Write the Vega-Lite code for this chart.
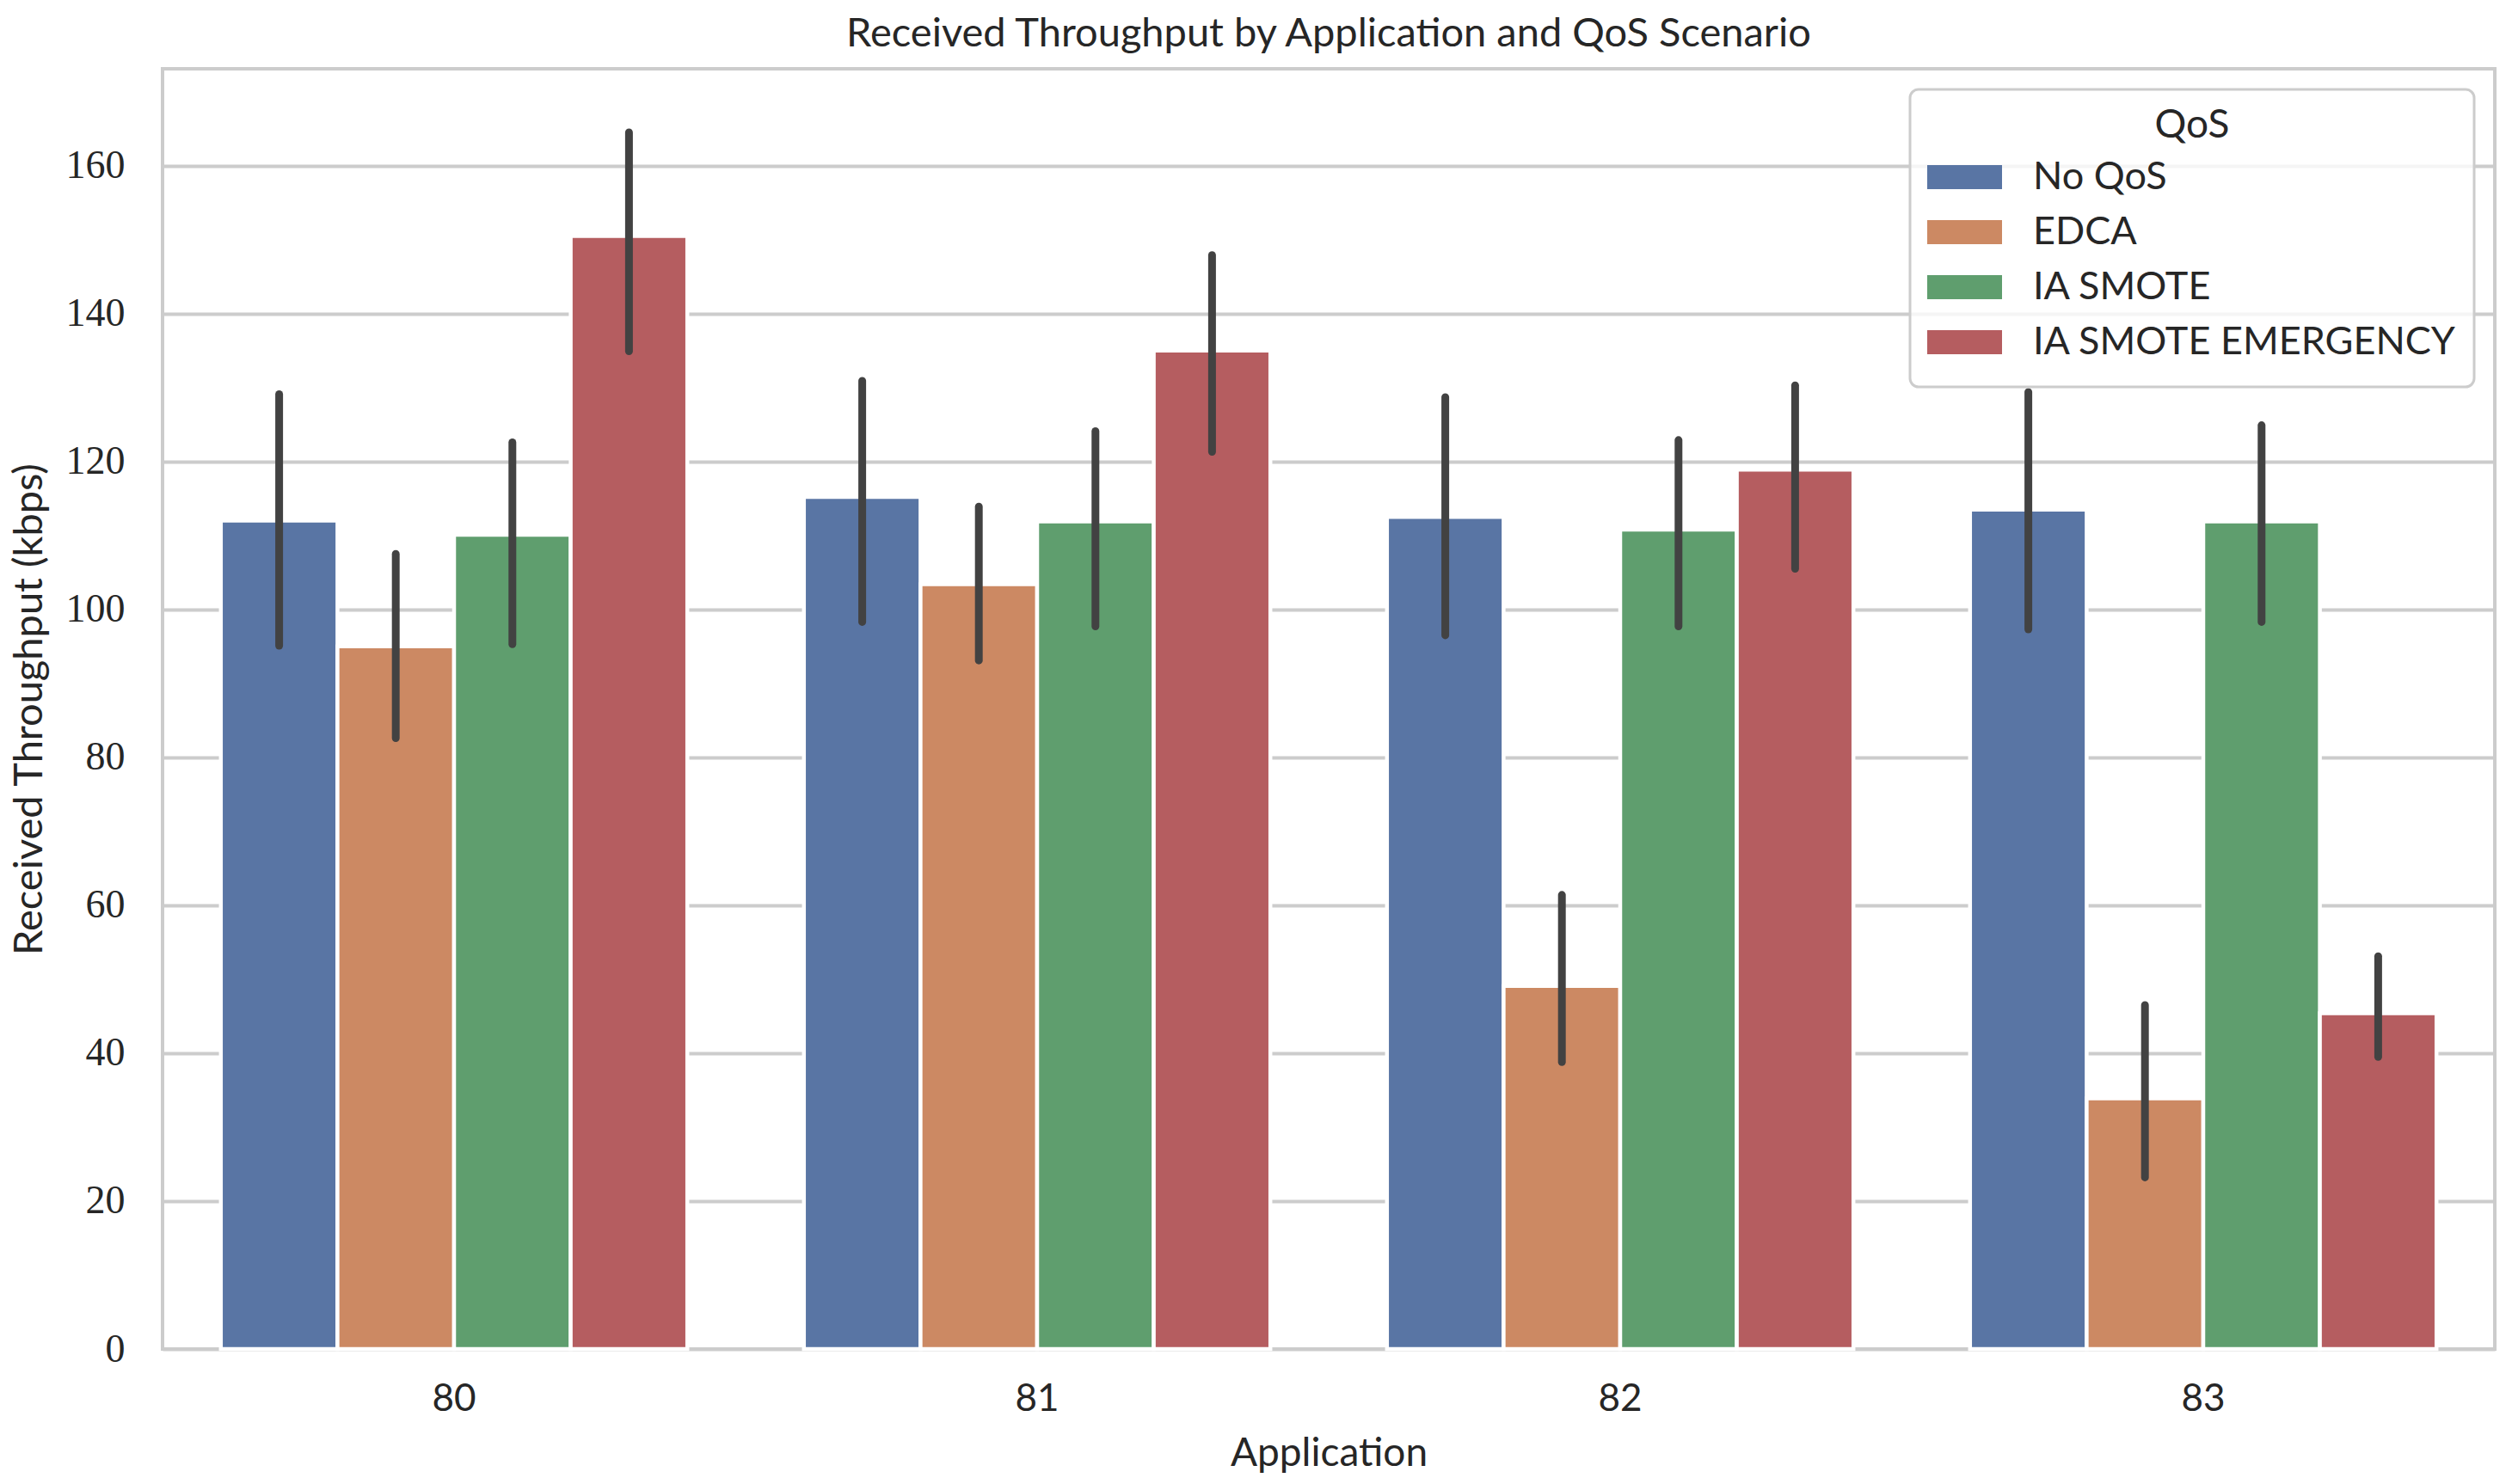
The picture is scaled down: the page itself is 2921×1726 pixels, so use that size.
{
  "$schema": "https://vega.github.io/schema/vega-lite/v6.json",
  "width": 2712,
  "height": 1489,
  "autosize": "none",
  "padding": {"left": 189, "top": 80, "right": 20, "bottom": 157},
  "background": "white",
  "title": {
    "text": "Received Throughput by Application and QoS Scenario",
    "font": "Lato",
    "fontSize": 47,
    "fontWeight": "normal",
    "color": "#262626",
    "anchor": "middle",
    "baseline": "alphabetic",
    "offset": 27,
    "dy": 48
  },
  "config": {
    "view": {"stroke": "#cccccc", "strokeWidth": 4},
    "axis": {"domain": false, "ticks": false, "titleFontWeight": "normal", "titleColor": "#262626", "labelColor": "#262626"},
    "legend": {"strokeWidth": 3}
  },
  "data": {
    "values": [
      {"Application": "80", "QoS": "No QoS", "throughput": 112.0, "lo": 95.1, "hi": 129.1},
      {"Application": "80", "QoS": "EDCA", "throughput": 95.0, "lo": 82.6, "hi": 107.5},
      {"Application": "80", "QoS": "IA SMOTE", "throughput": 110.1, "lo": 95.3, "hi": 122.6},
      {"Application": "80", "QoS": "IA SMOTE EMERGENCY", "throughput": 150.5, "lo": 134.9, "hi": 164.5},
      {"Application": "81", "QoS": "No QoS", "throughput": 115.2, "lo": 98.3, "hi": 130.9},
      {"Application": "81", "QoS": "EDCA", "throughput": 103.4, "lo": 93.1, "hi": 113.9},
      {"Application": "81", "QoS": "IA SMOTE", "throughput": 111.9, "lo": 97.7, "hi": 124.1},
      {"Application": "81", "QoS": "IA SMOTE EMERGENCY", "throughput": 135.0, "lo": 121.3, "hi": 147.9},
      {"Application": "82", "QoS": "No QoS", "throughput": 112.5, "lo": 96.5, "hi": 128.7},
      {"Application": "82", "QoS": "EDCA", "throughput": 49.1, "lo": 38.8, "hi": 61.4},
      {"Application": "82", "QoS": "IA SMOTE", "throughput": 110.8, "lo": 97.7, "hi": 122.9},
      {"Application": "82", "QoS": "IA SMOTE EMERGENCY", "throughput": 118.9, "lo": 105.5, "hi": 130.3},
      {"Application": "83", "QoS": "No QoS", "throughput": 113.5, "lo": 97.3, "hi": 129.4},
      {"Application": "83", "QoS": "EDCA", "throughput": 33.9, "lo": 23.2, "hi": 46.5},
      {"Application": "83", "QoS": "IA SMOTE", "throughput": 111.9, "lo": 98.3, "hi": 124.9},
      {"Application": "83", "QoS": "IA SMOTE EMERGENCY", "throughput": 45.4, "lo": 39.5, "hi": 53.1}
    ]
  },
  "encoding": {
    "x": {
      "field": "Application",
      "type": "nominal",
      "scale": {"paddingInner": 0.2, "paddingOuter": 0.1},
      "axis": {
        "labelAngle": 0,
        "labelFont": "Lato",
        "labelFontSize": 44,
        "labelPadding": 36,
        "title": "Application",
        "titleFont": "Lato",
        "titleFontSize": 46,
        "titlePadding": 19,
        "grid": false
      }
    },
    "xOffset": {
      "field": "QoS",
      "type": "nominal",
      "sort": ["No QoS", "EDCA", "IA SMOTE", "IA SMOTE EMERGENCY"],
      "scale": {"paddingInner": 0, "paddingOuter": 0}
    }
  },
  "layer": [
    {
      "mark": {"type": "bar", "stroke": "white", "strokeWidth": 4.5},
      "encoding": {
        "y": {
          "field": "throughput",
          "type": "quantitative",
          "scale": {"domain": [0, 173.1], "nice": false, "zero": true},
          "axis": {
            "values": [0, 20, 40, 60, 80, 100, 120, 140, 160],
            "grid": true,
            "gridColor": "#cccccc",
            "gridWidth": 4,
            "labelFont": "Liberation Serif",
            "labelFontSize": 46,
            "labelPadding": 44,
            "title": "Received Throughput (kbps)",
            "titleFont": "Lato",
            "titleFontSize": 47,
            "titlePadding": 18
          }
        },
        "color": {
          "field": "QoS",
          "type": "nominal",
          "sort": ["No QoS", "EDCA", "IA SMOTE", "IA SMOTE EMERGENCY"],
          "scale": {
            "domain": ["No QoS", "EDCA", "IA SMOTE", "IA SMOTE EMERGENCY"],
            "range": ["#5975a4", "#cc8963", "#5f9e6e", "#b55d60"]
          },
          "legend": {
            "title": "QoS",
            "orient": "top-right",
            "offset": 24,
            "padding": 20,
            "fillColor": "rgba(255,255,255,0.8)",
            "strokeColor": "#cccccc",
            "cornerRadius": 10,
            "titleFont": "Lato",
            "titleFontSize": 46,
            "titleFontWeight": "normal",
            "titleColor": "#262626",
            "titleAnchor": "middle",
            "titlePadding": 4,
            "labelFont": "Lato",
            "labelFontSize": 45,
            "labelColor": "#262626",
            "labelLimit": 1000,
            "labelOffset": 36,
            "rowPadding": 0,
            "clipHeight": 64,
            "symbolType": "M-1,-0.32L1,-0.32L1,0.32L-1,0.32Z",
            "symbolSize": 7569,
            "symbolStrokeWidth": 0,
            "symbolOpacity": 1
          }
        }
      }
    },
    {
      "mark": {"type": "rule", "color": "#424242", "strokeWidth": 9, "strokeCap": "round"},
      "encoding": {
        "y": {"field": "lo", "type": "quantitative"},
        "y2": {"field": "hi"}
      }
    }
  ]
}
